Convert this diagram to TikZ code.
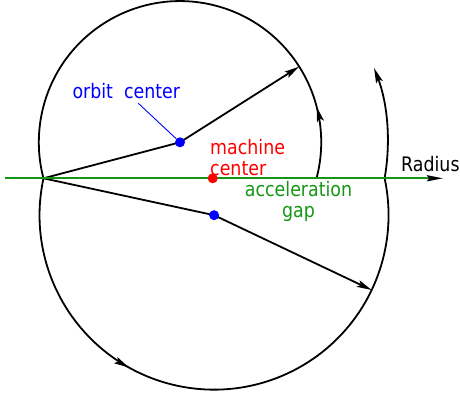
\documentclass[tikz,border=0pt]{standalone}
\usepackage{fontspec}
\setsansfont{DejaVu Sans}[FakeStretch=0.87]
\usetikzlibrary{arrows.meta,decorations.markings}

\begin{document}
\begin{tikzpicture}[x=1pt,y=1pt,font=\sffamily\fontsize{20}{17}\selectfont,
  turn/.style={line width=1.8pt},
  vec/.style={turn,-{Stealth[length=15pt,width=7pt,inset=3pt]}},
  dot/.style={circle,inner sep=0pt,minimum size=10pt},
  midtip/.style={postaction={decorate},decoration={markings,
    mark=at position #1 with {\arrow{Stealth[length=15pt,width=7pt,inset=3pt]}}}}]
\definecolor{gapgreen}{HTML}{149614}
\useasboundingbox (0,0) rectangle (460,398);
\coordinate (gap) at (43.5,219.7);
\coordinate (oc) at (180,255.7);
\coordinate (lc) at (214.1,182.8);
\coordinate (mc) at (212.7,219.7);
\coordinate (lead) at (138.3,294.7);
% half turns of the orbit
\draw[turn,midtip=0.14] (oc) ++(-14.8:141.2) arc[start angle=-14.8,end angle=194.8,radius=141.2];
\draw[turn,midtip=0.357] (gap) arc[start angle=167.8,end angle=372.2,radius=174.5] coordinate (rgap);
\draw[vec] (rgap) arc[start angle=-10,end angle=20.9,radius=207.8];
% radius vectors
\draw[vec] (gap) -- (oc) -- ++(32.4:141.2);
\draw[vec] (gap) -- (lc) -- ++(-25.4:174.5);
% radius axis
\draw[gapgreen,line width=2pt,-{Stealth[length=16pt,width=6pt,inset=2pt,color=black]}] (5,219.7) -- (443,219.7);
% centres and labels
\node[dot,fill=blue] (ocdot) at (oc) {};
\node[dot,fill=blue] (lcdot) at (lc) {};
\node[dot,fill=red] (mcdot) at (mc) {};
\node[anchor=base west,text=blue,inner sep=0pt] (olabel) at (72.3,299.7) {orbit\ \ center};
\draw[blue,line width=0.9pt] (lead) -- (ocdot);
\node[anchor=base west,text=red,align=left,inner sep=0pt] (mlabel) at (210,222) {machine\\[4pt]center};
\node[anchor=base,text=gapgreen,align=center,inner sep=0pt] (glabel) at (298.5,180) {acceleration\\[4pt]gap};
\node[anchor=base west,inner sep=0pt] (rlabel) at (401,226) {Radius};
\end{tikzpicture}
\end{document}
